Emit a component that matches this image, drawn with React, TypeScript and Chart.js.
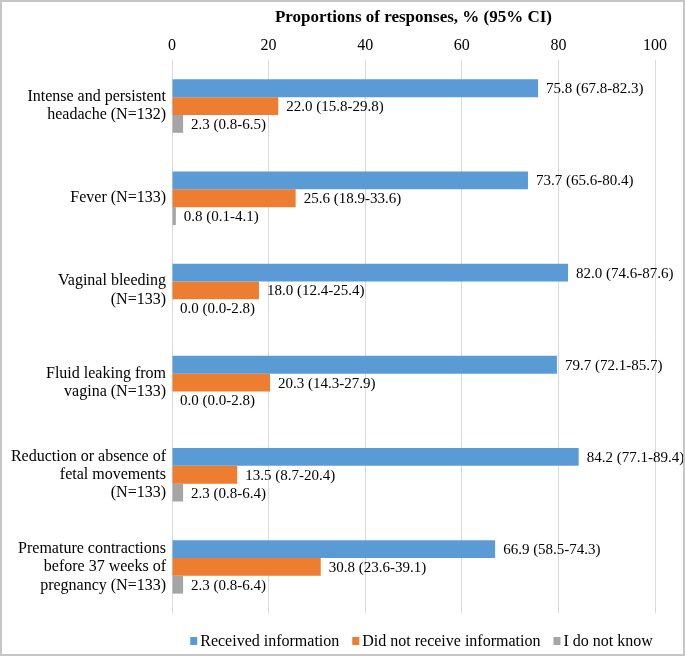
import React, { useEffect, useRef } from "react";
import { Chart, registerables } from "chart.js";

Chart.register(...registerables);

const categories: string[][] = [
  ["Intense and persistent", "headache (N=132)"],
  ["Fever (N=133)"],
  ["Vaginal bleeding", "(N=133)"],
  ["Fluid leaking from", "vagina (N=133)"],
  ["Reduction or absence of", "fetal movements", "(N=133)"],
  ["Premature contractions", "before 37 weeks of", "pregnancy (N=133)"],
];

const receivedValues = [75.8, 73.7, 82.0, 79.7, 84.2, 66.9];
const receivedCI = ["67.8-82.3", "65.6-80.4", "74.6-87.6", "72.1-85.7", "77.1-89.4", "58.5-74.3"];
const notReceivedValues = [22.0, 25.6, 18.0, 20.3, 13.5, 30.8];
const notReceivedCI = ["15.8-29.8", "18.9-33.6", "12.4-25.4", "14.3-27.9", "8.7-20.4", "23.6-39.1"];
const dontKnowValues = [2.3, 0.8, 0.0, 0.0, 2.3, 2.3];
const dontKnowCI = ["0.8-6.5", "0.1-4.1", "0.0-2.8", "0.0-2.8", "0.8-6.4", "0.8-6.4"];

const seriesNames = ["Received information", "Did not receive information", "I do not know"];
const seriesColors = ["#5B9BD5", "#ED7D31", "#A5A5A5"];
const xTicks = [0, 20, 40, 60, 80, 100];
const axisTitle = "Proportions of responses, % (95% CI)";

const FONT = "'Liberation Serif', 'Times New Roman', serif";

const ciLists = [receivedCI, notReceivedCI, dontKnowCI];

const labelPlugin = {
  id: "ciLabels",
  afterDatasetsDraw(chart: any) {
    const ctx = chart.ctx;
    ctx.save();
    ctx.font = `15px ${FONT}`;
    ctx.fillStyle = "#000";
    ctx.textBaseline = "middle";
    ctx.textAlign = "left";
    chart.data.datasets.forEach((ds: any, di: number) => {
      const meta = chart.getDatasetMeta(di);
      meta.data.forEach((bar: any, i: number) => {
        const v = ds.data[i] as number;
        const text = `${v.toFixed(1)} (${ciLists[di][i]})`;
        ctx.fillText(text, bar.x + 8, bar.y + 1);
      });
    });
    ctx.restore();
  },
};

const legendPlugin = {
  id: "bottomLegend",
  afterDraw(chart: any) {
    const ctx = chart.ctx;
    const area = chart.chartArea;
    ctx.save();
    ctx.font = `16px ${FONT}`;
    ctx.textBaseline = "middle";
    ctx.textAlign = "left";
    const box = 7;
    const textGap = 3;
    const itemGap = 13;
    const items = chart.data.datasets.map((ds: any) => ({
      label: ds.label as string,
      color: ds.backgroundColor as string,
      w: ctx.measureText(ds.label).width,
    }));
    const total =
      items.reduce((s: number, it: any) => s + box + textGap + it.w, 0) + itemGap * (items.length - 1);
    const cx = (area.left + area.right) / 2 + 8;
    let x = cx - total / 2;
    const y = area.bottom + 28;
    items.forEach((it: any) => {
      ctx.fillStyle = it.color;
      ctx.fillRect(x, y - 4, box, 8);
      ctx.fillStyle = "#000";
      ctx.fillText(it.label, x + box + textGap, y + 1);
      x += box + textGap + it.w + itemGap;
    });
    ctx.restore();
  },
};

export default function App() {
  const ref = useRef<HTMLCanvasElement>(null);
  useEffect(() => {
    if (!ref.current) return;
    const chart = new Chart(ref.current, {
      type: "bar",
      data: {
        labels: categories,
        datasets: [receivedValues, notReceivedValues, dontKnowValues].map((d, i) => ({
          label: seriesNames[i],
          data: d,
          backgroundColor: seriesColors[i],
          borderWidth: 0,
          categoryPercentage: 0.58,
          barPercentage: 1.0,
        })),
      },
      options: {
        indexAxis: "y",
        animation: false,
        responsive: false,
        maintainAspectRatio: false,
        layout: { padding: { left: 0, right: 28, top: 5, bottom: 41 } },
        plugins: {
          legend: { display: false },
          tooltip: { enabled: false },
        },
        scales: {
          x: {
            position: "top",
            min: 0,
            max: 100,
            afterBuildTicks: (scale: any) => {
              scale.ticks = xTicks.map((v) => ({ value: v }));
            },
            afterFit: (scale: any) => {
              scale.height = 53;
            },
            title: {
              display: true,
              text: axisTitle,
              font: { family: FONT, size: 17, weight: "bold" },
              color: "#000",
              padding: { top: 0, bottom: 0 },
            },
            ticks: {
              font: { family: FONT, size: 16 },
              color: "#000",
              padding: 5,
            },
            grid: { color: "#d9d9d9", drawTicks: false, lineWidth: 1 },
            border: { display: false },
          },
          y: {
            afterFit: (scale: any) => {
              scale.width = 170;
            },
            ticks: {
              font: { family: FONT, size: 16, lineHeight: 1.15 },
              color: "#000",
              padding: 6,
            },
            grid: { display: false, drawTicks: false },
            border: { display: false },
          },
        },
      },
      plugins: [labelPlugin, legendPlugin],
    } as any);
    return () => chart.destroy();
  }, []);

  return (
    <div
      style={{
        position: "fixed",
        left: 0,
        top: 0,
        width: 685,
        height: 656,
        boxSizing: "border-box",
        border: "2px solid #c6c6c6",
        background: "#fff",
      }}
    >
      <canvas ref={ref} width={681} height={652} style={{ display: "block" }} />
    </div>
  );
}
